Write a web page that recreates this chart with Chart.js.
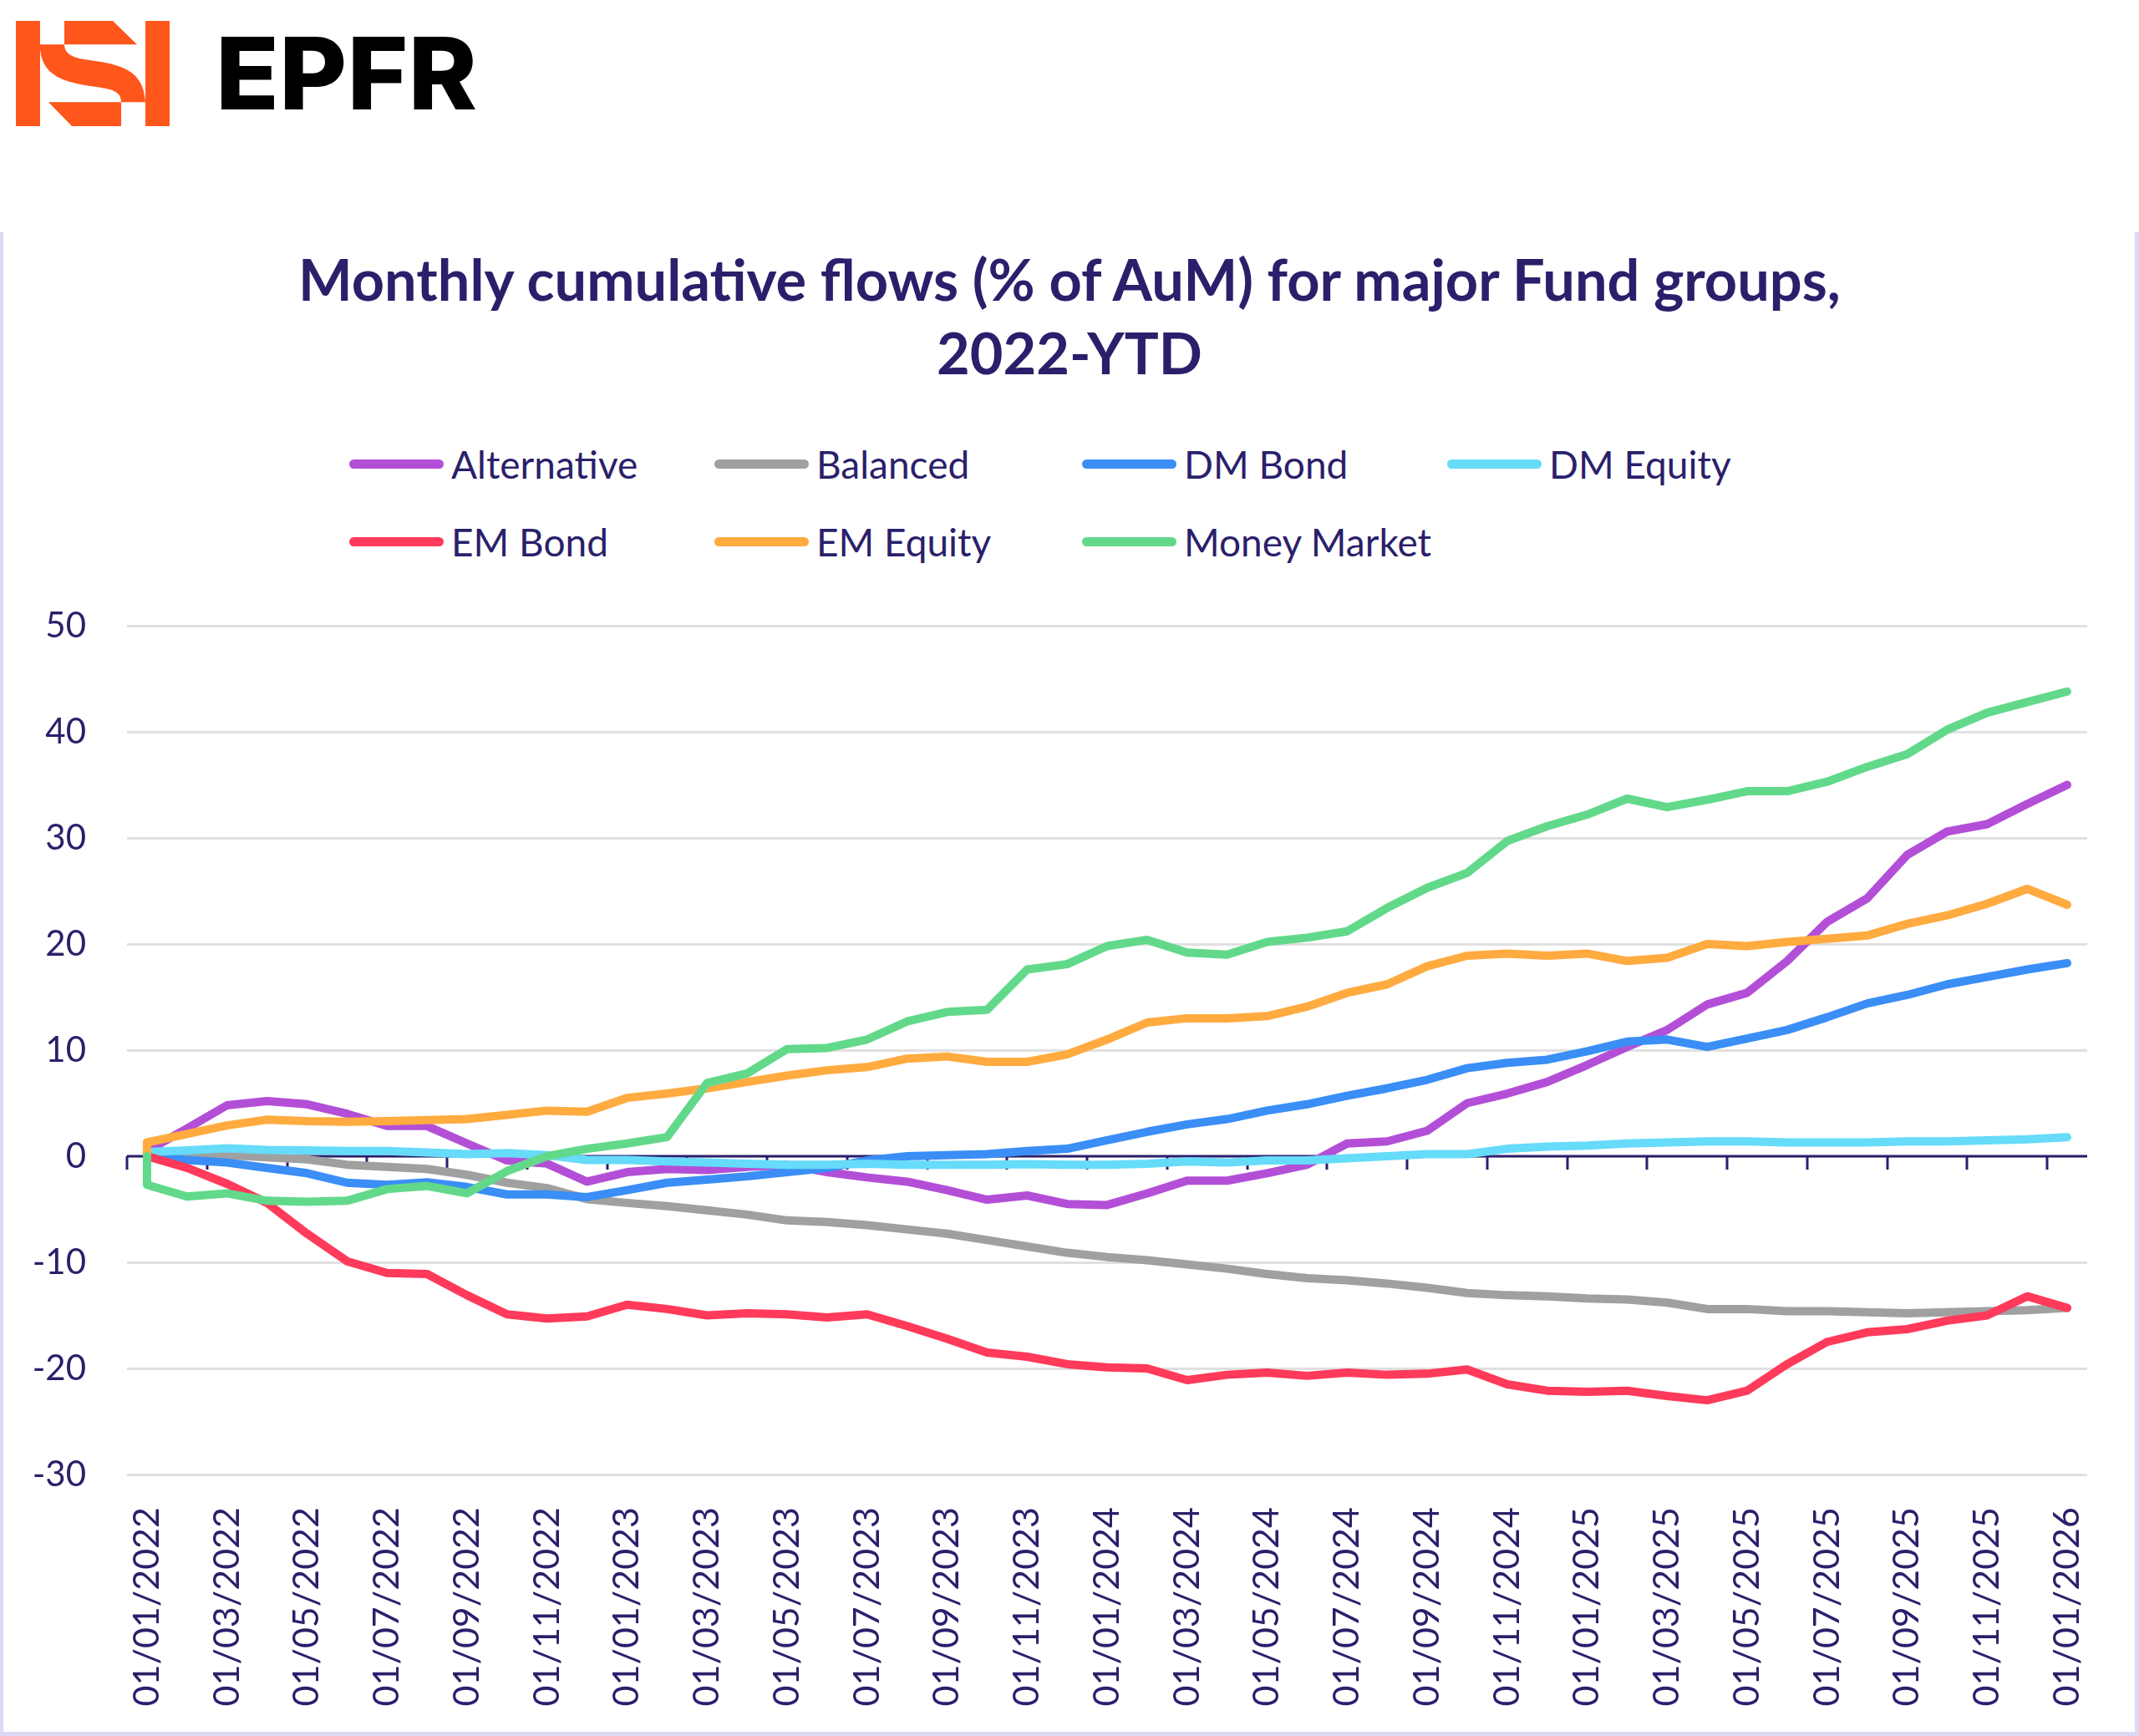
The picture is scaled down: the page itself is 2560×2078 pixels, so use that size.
<!DOCTYPE html>
<html><head><meta charset="utf-8">
<script src="https://cdn.jsdelivr.net/npm/chart.js@4"></script>
<style>
html,body{margin:0;padding:0;background:#fff;}
body{width:2560px;height:2078px;position:relative;overflow:hidden;font-family:Lato,sans-serif;}
#logo{position:absolute;left:0;top:0;}
#panel{position:absolute;left:0;top:278px;width:2560px;height:1800px;box-sizing:border-box;border-left:4px solid #dcd9f5;border-right:5px solid #dcd9f5;border-bottom:5px solid #dcd9f5;}
#title{position:absolute;left:0;width:2560px;top:290px;text-align:center;color:#2b1f6b;font:700 68.5px Lato;line-height:88px;}
.leg{position:absolute;height:60px;display:flex;align-items:center;font:46px Lato;color:#2b1f6b;white-space:nowrap;}
.sw{width:113px;height:11px;border-radius:6px;margin-right:9px;}
#wrap{position:absolute;left:0;top:700px;width:2560px;height:1378px;}
</style></head>
<body>
<svg id="logo" width="640" height="180" viewBox="0 0 640 180">
  <g fill="#ff561b">
    <rect x="19" y="25" width="29" height="126"/>
    <rect x="174" y="25" width="29" height="126"/>
    <polygon points="77,25 135,25 164,53.3 77,53.3"/>
    <path d="M47.8 53.3 L77 53.3 C77 66 90 70 107 72 C145 77 172 84 174 122.3 L145 122.3 C145 110 136 107 115 104 C78 99 47.8 92 47.8 53.3 Z"/>
    <polygon points="58,122.3 145,122.3 145,151 86,151"/>
  </g>
  <text x="258" y="131" textLength="313" lengthAdjust="spacingAndGlyphs" font-family="Inter" font-weight="800" font-size="120" fill="#000">EPFR</text>
</svg>
<div id="panel"></div>
<div id="title">Monthly cumulative flows (% of AuM) for major Fund groups,<br>2022-YTD</div>
<div id="legend"></div>
<div id="wrap"><canvas id="c"></canvas></div>
<script>
const tickLabels = ['01/01/2022','01/03/2022','01/05/2022','01/07/2022','01/09/2022','01/11/2022',
 '01/01/2023','01/03/2023','01/05/2023','01/07/2023','01/09/2023','01/11/2023',
 '01/01/2024','01/03/2024','01/05/2024','01/07/2024','01/09/2024','01/11/2024',
 '01/01/2025','01/03/2025','01/05/2025','01/07/2025','01/09/2025','01/11/2025','01/01/2026'];

const seriesNames = ['Alternative','Balanced','DM Bond','DM Equity','EM Bond','EM Equity','Money Market'];
const seriesColors = ['#b34fd7','#a0a0a0','#3a8ef6','#66dbfa','#ff3a5a','#ffab40','#62d98a'];

const alternative = [0.5,2.6,4.8,5.2,4.9,4.0,2.85,2.85,1.2,-0.4,-0.7,-2.4,-1.5,-1.2,-1.3,-1.0,-0.8,-1.5,-2.0,-2.4,-3.2,-4.1,-3.7,-4.5,-4.6,-3.5,-2.3,-2.3,-1.6,-0.8,1.2,1.4,2.4,5.0,5.9,7.0,8.6,10.3,11.9,14.3,15.4,18.4,22.1,24.3,28.4,30.6,31.3,33.2,35.0];
const balanced = [0,0,0.1,-0.1,-0.3,-0.8,-1.0,-1.2,-1.75,-2.5,-3.0,-4.05,-4.4,-4.7,-5.1,-5.5,-6.05,-6.2,-6.5,-6.9,-7.3,-7.9,-8.5,-9.1,-9.5,-9.8,-10.2,-10.6,-11.1,-11.5,-11.7,-12.0,-12.4,-12.9,-13.1,-13.2,-13.4,-13.5,-13.8,-14.4,-14.4,-14.6,-14.6,-14.7,-14.8,-14.7,-14.6,-14.5,-14.3];
const dmBond = [0,-0.35,-0.6,-1.1,-1.6,-2.5,-2.7,-2.45,-2.9,-3.6,-3.6,-3.85,-3.2,-2.5,-2.2,-1.9,-1.5,-1.1,-0.4,0.0,0.1,0.2,0.5,0.7,1.5,2.3,3.0,3.5,4.3,4.9,5.7,6.4,7.2,8.3,8.8,9.1,9.9,10.8,11.0,10.3,11.1,11.9,13.1,14.4,15.2,16.2,16.9,17.6,18.2];
const dmEquity = [0.4,0.55,0.75,0.6,0.55,0.5,0.5,0.35,0.2,0.3,0.1,-0.35,-0.35,-0.5,-0.6,-0.7,-0.8,-0.8,-0.7,-0.8,-0.8,-0.8,-0.75,-0.8,-0.8,-0.7,-0.5,-0.6,-0.4,-0.4,-0.2,0.0,0.2,0.2,0.7,0.9,1.0,1.2,1.3,1.4,1.4,1.3,1.3,1.3,1.4,1.4,1.5,1.6,1.8];
const emBond = [0,-1.1,-2.6,-4.4,-7.3,-9.9,-11.0,-11.1,-13.1,-14.9,-15.3,-15.1,-14.0,-14.4,-15.0,-14.8,-14.9,-15.2,-14.9,-16.0,-17.2,-18.5,-18.9,-19.6,-19.9,-20.0,-21.1,-20.6,-20.4,-20.7,-20.4,-20.6,-20.5,-20.1,-21.5,-22.1,-22.2,-22.1,-22.6,-23.0,-22.1,-19.6,-17.5,-16.6,-16.3,-15.5,-15.0,-13.2,-14.3];
const emEquity = [1.3,2.1,2.9,3.45,3.3,3.25,3.3,3.4,3.5,3.9,4.3,4.2,5.5,5.9,6.4,7.0,7.6,8.1,8.4,9.2,9.4,8.9,8.9,9.6,11.0,12.6,13.0,13.0,13.2,14.1,15.4,16.2,17.9,18.9,19.1,18.9,19.1,18.4,18.7,20.0,19.8,20.2,20.5,20.8,21.9,22.7,23.8,25.2,23.7];
const moneyMarket = [-2.7,-3.8,-3.5,-4.2,-4.3,-4.2,-3.1,-2.8,-3.5,-1.4,0.0,0.7,1.2,1.8,6.9,7.8,10.1,10.2,11.0,12.7,13.6,13.8,17.6,18.1,19.8,20.4,19.2,19.0,20.2,20.6,21.2,23.4,25.3,26.7,29.7,31.1,32.2,33.7,32.9,33.6,34.4,34.4,35.3,36.7,37.9,40.2,41.8,42.8,43.8];
const startValue = 0;

const seriesValues = [alternative, balanced, dmBond, dmEquity, emBond, emEquity, moneyMarket];
const NAVY = '#2b1f6b';

function toPoints(arr){
  return [{x:0, y:startValue}].concat(arr.map((v,i)=>({x:i, y:v})));
}

const zeroAxis = {
  id:'zeroAxis',
  beforeDatasetsDraw(chart){
    const {ctx, chartArea:a, scales:{x, y}} = chart;
    const y0 = y.getPixelForValue(0);
    ctx.save();
    ctx.strokeStyle = NAVY;
    ctx.lineWidth = 3;
    ctx.beginPath();
    ctx.moveTo(a.left, y0); ctx.lineTo(a.right, y0);
    for (let k = 0; k < tickLabels.length; k++){
      const px = Math.round(x.getPixelForValue(2*k - 0.5));
      ctx.moveTo(px, y0); ctx.lineTo(px, y0 + 16);
    }
    ctx.stroke();
    ctx.restore();
  }
};

const chart = new Chart(document.getElementById('c'), {
  type:'line',
  data:{
    datasets: seriesNames.map((name,i)=>({
      label:name,
      data: toPoints(seriesValues[i]),
      borderColor: seriesColors[i],
      backgroundColor: seriesColors[i],
      borderWidth: 10,
      pointRadius: 0,
      pointHoverRadius: 0,
      tension: 0,
      borderCapStyle:'round',
      borderJoinStyle:'round',
      fill:false,
      order: seriesNames.length - i
    }))
  },
  options:{
    responsive:true,
    maintainAspectRatio:false,
    animation:false,
    events:[],
    layout:{padding:{left:0,right:62,top:49,bottom:0}},
    plugins:{legend:{display:false}, title:{display:false}, tooltip:{enabled:false}},
    scales:{
      x:{
        type:'linear',
        min:-0.5, max:48.5,
        afterBuildTicks(s){ s.ticks = tickLabels.map((_,k)=>({value:2*k})); },
        afterFit(s){ s.height = 313; s.paddingLeft = 0; s.paddingRight = 0; },
        grid:{display:false, drawTicks:false},
        border:{display:false},
        ticks:{
          autoSkip:false, minRotation:90, maxRotation:90, padding:39,
          color:NAVY, font:{family:'Lato', size:43},
          callback:(v)=> tickLabels[v/2] ?? ''
        }
      },
      y:{
        min:-30, max:50,
        afterFit(s){ s.width = 152; s.paddingTop = 0; s.paddingBottom = 0; },
        grid:{color:'#e0e0e0', lineWidth:3, drawTicks:false},
        border:{display:false},
        ticks:{stepSize:10, padding:49, color:NAVY, font:{family:'Lato', size:42}}
      }
    }
  },
  plugins:[zeroAxis]
});

// HTML legend built from the chart's datasets
const legendCols = [418, 855, 1295, 1732];
const legendRows = [525, 618];
const legendEl = document.getElementById('legend');
chart.data.datasets.forEach((ds, i) => {
  const item = document.createElement('div');
  item.className = 'leg';
  item.style.left = legendCols[i % 4] + 'px';
  item.style.top = legendRows[Math.floor(i / 4)] + 'px';
  const sw = document.createElement('div');
  sw.className = 'sw';
  sw.style.background = ds.borderColor;
  item.appendChild(sw);
  item.appendChild(document.createTextNode(ds.label));
  legendEl.appendChild(item);
});
</script>
</body></html>
